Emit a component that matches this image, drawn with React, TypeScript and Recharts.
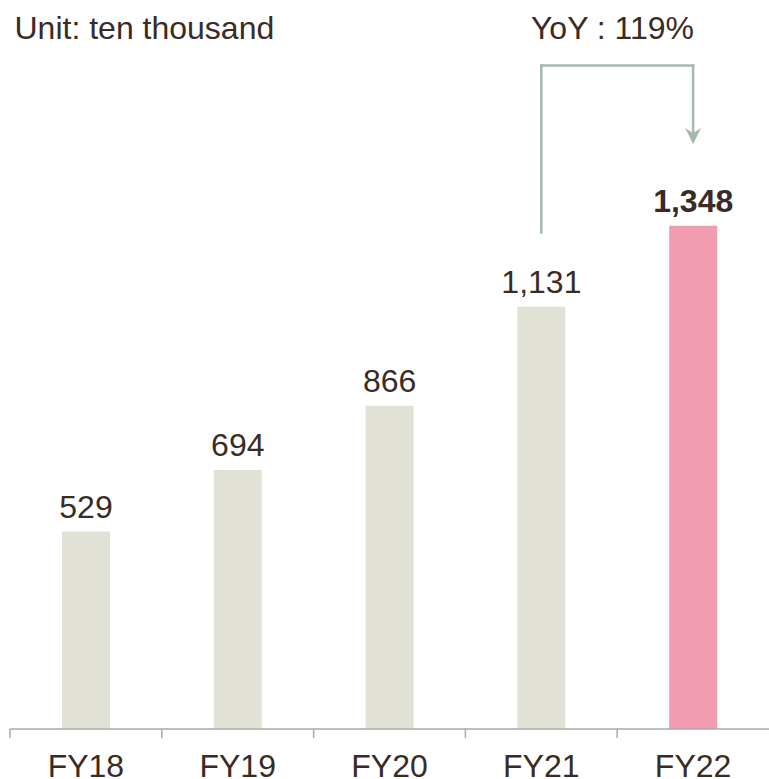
import React from "react";
import {
  BarChart,
  Bar,
  XAxis,
  YAxis,
  Cell,
  LabelList,
  ReferenceLine,
  ReferenceDot,
} from "recharts";

const categories = ["FY18", "FY19", "FY20", "FY21", "FY22"];
const values = [529, 694, 866, 1131, 1348];
const highlight = [false, false, false, false, true];

// YoY bracket annotation (data units)
const bracketFrom = "FY21";
const bracketTo = "FY22";
const bracketStartValue = 1330;
const bracketTopValue = 1777;
const arrowTipValue = 1567;
const yoyText = "YoY : 119%";
const unitText = "Unit: ten thousand";

const data = categories.map((c, i) => ({ name: c, value: values[i], hl: highlight[i] }));

const W = 769;
const H = 779;
const M = { top: 1, right: 0, left: 10, bottom: 0 };
const BAND = (W - M.left - M.right) / categories.length;
const FONT = "'Liberation Sans', Arial, sans-serif";
const TEXT = "#3a2b24";
const GRAY = "#e1e1d6";
const PINK = "#f19cb1";
const AXIS = "#a9ada3";
const BRACKET = "#a6b9ad";

const Tick = (props: any) => {
  const { x, y, payload } = props;
  return (
    <g>
      <line x1={x - BAND / 2} y1={y} x2={x - BAND / 2} y2={y + 9} stroke={AXIS} strokeWidth={1.5} />
      <text x={x} y={y + 48} textAnchor="middle" fontSize={32} fontFamily={FONT} fill={TEXT}>
        {payload.value}
      </text>
    </g>
  );
};

const ValueLabel = (props: any) => {
  const { x, y, width, value, index } = props;
  const bold = highlight[index];
  return (
    <text
      x={x + width / 2}
      y={y - 14}
      textAnchor="middle"
      fontSize={32}
      fontFamily={FONT}
      fontWeight={bold ? "bold" : "normal"}
      fill={TEXT}
    >
      {Number(value).toLocaleString("en-US")}
    </text>
  );
};

const ArrowHead = (props: any) => {
  const { cx, cy } = props;
  return (
    <path
      d={`M ${cx - 8} ${cy - 16} L ${cx} ${cy - 11} L ${cx + 8} ${cy - 16} L ${cx} ${cy} Z`}
      fill={BRACKET}
    />
  );
};

export default function App() {
  return (
    <div style={{ position: "fixed", left: 0, top: 0, width: W, height: H, overflow: "hidden", background: "#fff" }}>
      <BarChart width={W} height={H} data={data} margin={M} barCategoryGap={0}>
        <XAxis
          dataKey="name"
          height={50}
          tickSize={0}
          tickMargin={0}
          tickLine={false}
          axisLine={{ stroke: AXIS, strokeWidth: 1.5 }}
          tick={<Tick />}
          interval={0}
        />
        <YAxis hide domain={[0, 1950]} />
        <Bar dataKey="value" barSize={48} isAnimationActive={false}>
          {data.map((d, i) => (
            <Cell key={i} fill={d.hl ? PINK : GRAY} />
          ))}
          <LabelList dataKey="value" content={<ValueLabel />} />
        </Bar>
        <ReferenceLine
          segment={[
            { x: bracketFrom, y: bracketStartValue },
            { x: bracketFrom, y: bracketTopValue },
          ]}
          stroke={BRACKET}
          strokeWidth={2.5}
          strokeLinecap="square"
        />
        <ReferenceLine
          segment={[
            { x: bracketFrom, y: bracketTopValue },
            { x: bracketTo, y: bracketTopValue },
          ]}
          stroke={BRACKET}
          strokeWidth={2.5}
          strokeLinecap="square"
        />
        <ReferenceLine
          segment={[
            { x: bracketTo, y: bracketTopValue },
            { x: bracketTo, y: arrowTipValue + 20 },
          ]}
          stroke={BRACKET}
          strokeWidth={2.5}
          strokeLinecap="square"
        />
        <ReferenceDot x={bracketTo} y={arrowTipValue} r={0} shape={<ArrowHead />} />
      </BarChart>
      <svg
        width={W}
        height={H}
        style={{ position: "absolute", left: 0, top: 0, pointerEvents: "none" }}
      >
        <text x={14.5} y={39} fontSize={32} fontFamily={FONT} fill={TEXT}>
          {unitText}
        </text>
        <text x={612.5} y={39} textAnchor="middle" fontSize={32} fontFamily={FONT} fill={TEXT}>
          {yoyText}
        </text>
      </svg>
    </div>
  );
}
